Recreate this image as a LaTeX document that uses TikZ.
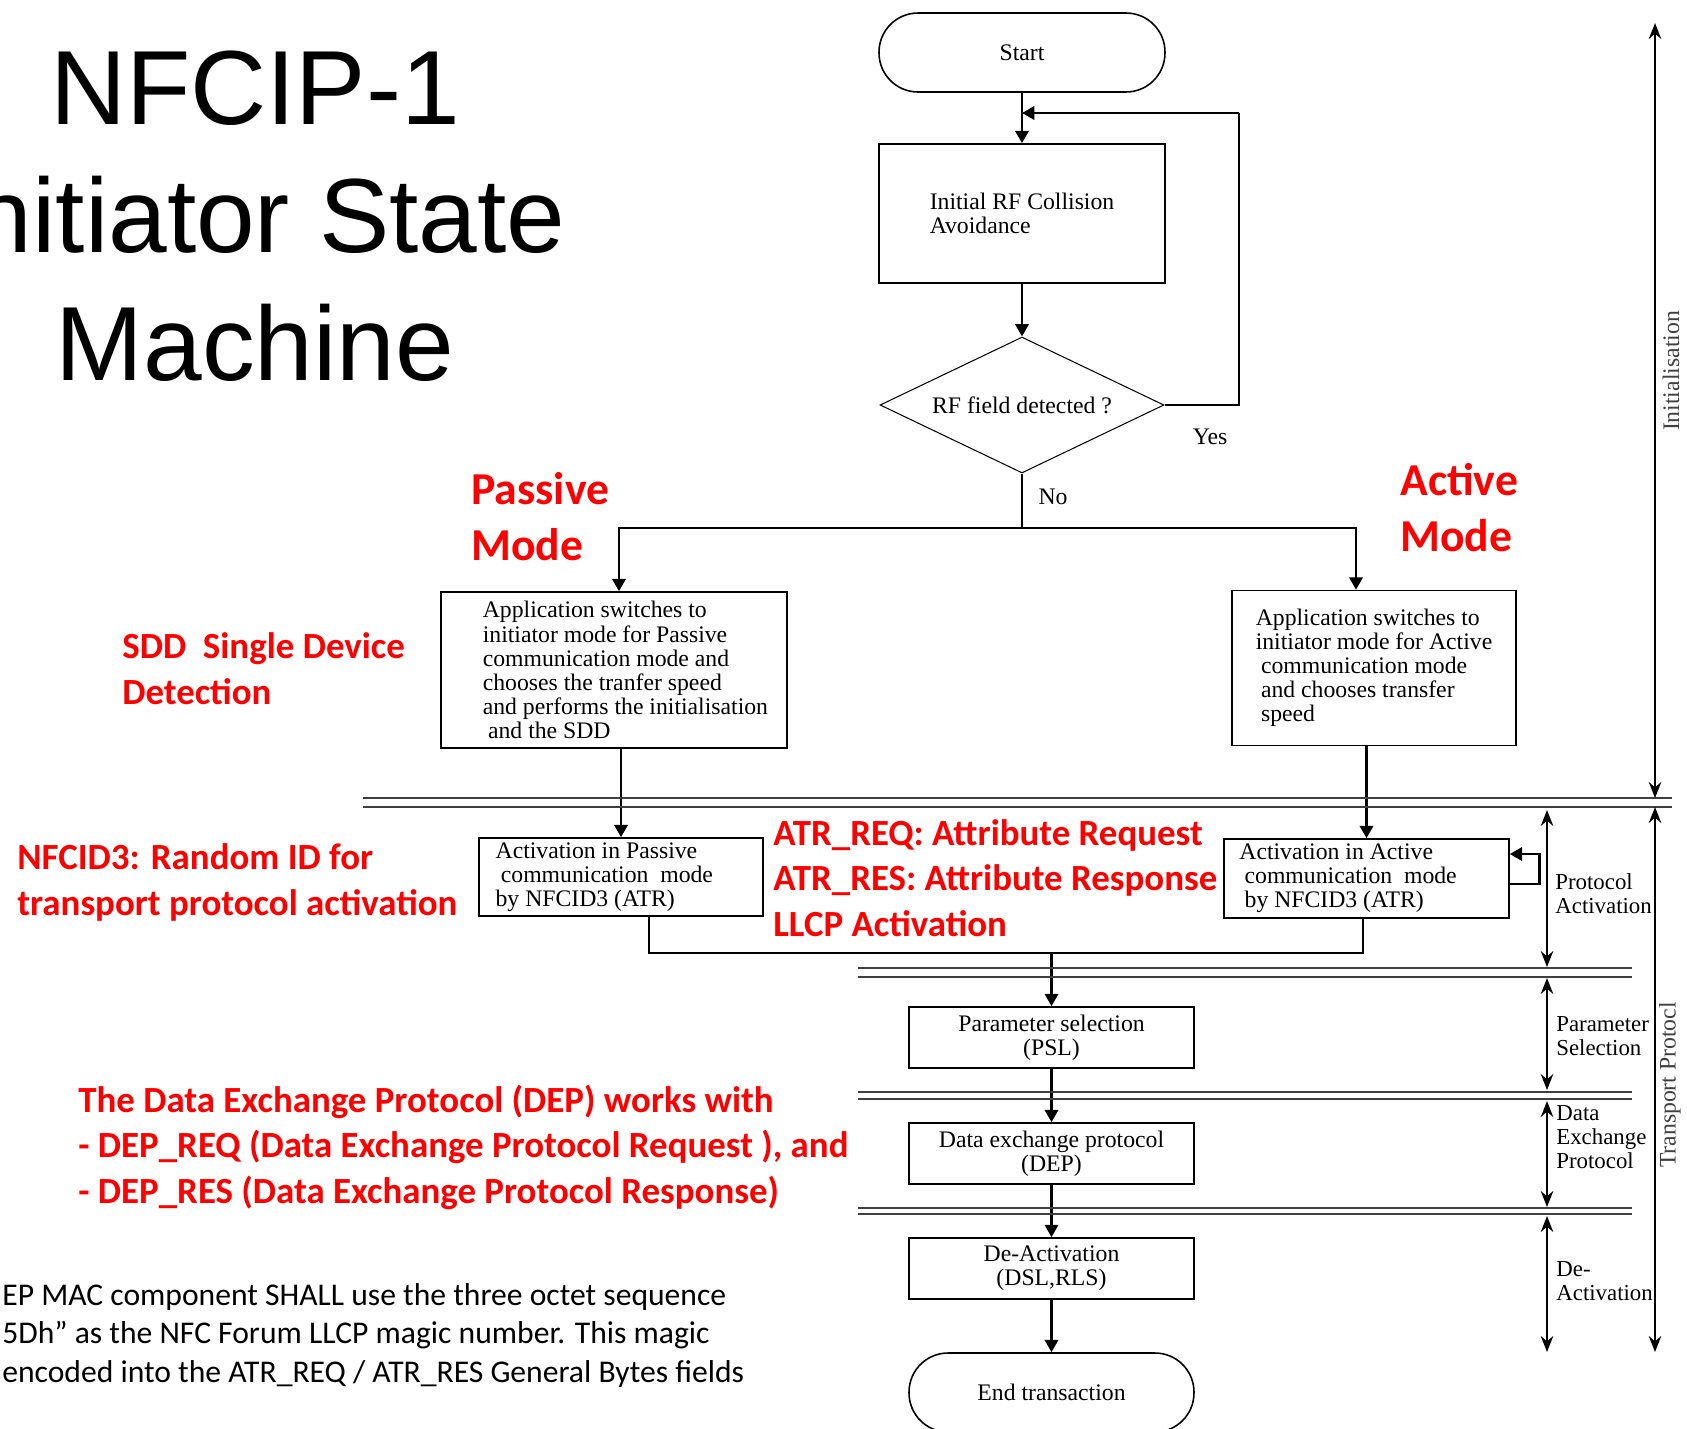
\documentclass[tikz,border=0pt]{standalone}
\usepackage{fontspec}
\setmainfont{Liberation Serif}
\newfontfamily\arialfont{Liberation Sans}
\newfontfamily\calfont{Carlito}
\usetikzlibrary{arrows.meta, shapes.geometric}
\tikzset{
  box/.style={draw, line width=0.9pt, align=left, inner sep=2pt,
              font=\fontsize{13.5}{13.7}\selectfont},
  term/.style={box, rounded corners=0.78cm, align=center},
  decision/.style={draw, diamond, aspect=2.09, line width=0.6pt, inner sep=0pt,
              font=\fontsize{13.5}{13.7}\selectfont},
  lbl/.style={inner sep=0pt, font=\fontsize{13.5}{13.7}\selectfont},
  flow/.style={-{Triangle[length=7pt,width=7.5pt]}, line width=1.6pt},
  link/.style={line width=1.3pt},
  thinlink/.style={line width=0.8pt},
  sep/.style={line width=0.8pt, black!75},
  span/.style={{Stealth[length=9pt,width=7pt]}-{Stealth[length=9pt,width=7pt]},
              line width=1.6pt},
  spanlbl/.style={anchor=base west, align=left, inner sep=0pt,
              font=\fontsize{13}{13.5}\selectfont},
  title/.style={anchor=base, inner sep=0pt,
              font=\arialfont\fontsize{60}{72}\selectfont},
  note/.style={anchor=base west, align=left, inner sep=0pt, text=red,
              font=\calfont\bfseries\fontsize{21}{25.8}\selectfont},
  bignote/.style={note, font=\calfont\bfseries\fontsize{26}{31.8}\selectfont},
  body/.style={anchor=base west, align=left, inner sep=0pt,
              font=\calfont\fontsize{18}{21.8}\selectfont},
}
\newcommand{\ind}{\hspace*{13pt}}
\newcommand{\pad}[1]{\hspace*{#1}\mbox{}}

\begin{document}
\begin{tikzpicture}[x=0.02cm, y=-0.02cm]
\useasboundingbox (0,0) rectangle (1687,1428);

%% Title
\node[title] (ttl1) at (255,124) {NFCIP-1};
\node[title] (ttl2) at (255,252) {Initiator State};
\node[title] (ttl3) at (255,380) {Machine};

%% Initialisation part
\node[term, minimum width=5.72cm, minimum height=1.58cm] (start) at (1022,52.5) {Start};
\node[box, minimum width=5.72cm, minimum height=2.78cm] (init) at (1022,213.5)
  {Initial RF Collision\\Avoidance};
\node[decision, minimum width=5.68cm, minimum height=2.72cm] (rfq) at (1022,405)
  {RF field detected ?};
\node[lbl] (yes) at (1210,437) {Yes};
\node[lbl] (no) at (1053,497) {No};

\node[box, minimum width=6.92cm, minimum height=3.12cm] (pbox) at (614,670)
  {\ind Application switches to\\\ind initiator mode for Passive\\\ind communication mode and\\
   \ind chooses the tranfer speed\\\ind and performs the initialisation\\\ind\hspace*{3pt}and the SDD};
\node[box, minimum width=5.68cm, minimum height=3.10cm] (abox) at (1374,668)
  {Application switches to\\initiator mode for Active\\\hspace*{3pt}communication mode\\
   \hspace*{3pt}and chooses transfer\\\hspace*{3pt}speed};

%% Activation part
\node[box, minimum width=5.68cm, minimum height=1.56cm] (pact) at (621,877)
  {Activation in Passive\\\hspace*{3pt}communication\ \ mode\pad{19pt}\\by NFCID3 (ATR)};
\node[box, minimum width=5.70cm, minimum height=1.58cm] (aact) at (1366.5,878.5)
  {Activation in Active\\\hspace*{3pt}communication\ \ mode\pad{21pt}\\\hspace*{3pt}by NFCID3 (ATR)};

%% Transport part
\node[box, align=center, minimum width=5.70cm, minimum height=1.22cm] (psl) at (1051.5,1037.5)
  {Parameter selection\\(PSL)};
\node[box, align=center, minimum width=5.70cm, minimum height=1.22cm] (dep) at (1051.5,1153.5)
  {Data exchange protocol\\(DEP)};
\node[box, align=center, minimum width=5.70cm, minimum height=1.22cm] (deact) at (1051.5,1268.5)
  {De-Activation\\(DSL,RLS)};
\node[term, minimum width=5.70cm, minimum height=1.58cm] (endt) at (1051.5,1392.5)
  {End transaction};

%% Connectors
\coordinate (fb) at (1022,113);
\coordinate (fbc) at (1239,113);
\coordinate (spl) at (1022,528);
\coordinate (jl) at (649,953);
\coordinate (jr) at (1363,953);

\draw[flow] (start) -- (init);
\draw[flow] (init) -- (rfq);
\draw[thinlink] (rfq.east) -| (fbc);
\draw[flow] (fbc) -- (fb);
\draw[link] (rfq.south) -- (spl);
\draw[flow] (spl) -| ([xshift=0.1cm]pbox.north);
\draw[flow] (spl) -| ([xshift=-0.36cm]abox.north);
\draw[flow] (pact.north |- pbox.south) -- (pact.north);
\draw[flow] (aact.north |- abox.south) -- (aact.north);
\draw[flow] ([yshift=-0.11cm]aact.east) -- ++(30,0) |- ([yshift=0.49cm]aact.east);
\draw[thinlink] (pact.south -| jl) -- (jl) -- (jr) -- (aact.south -| jr);
\draw[flow] (psl.north |- jl) -- (psl.north);
\draw[flow] (psl) -- (dep);
\draw[flow] (dep) -- (deact);
\draw[flow] (deact) -- (endt);

%% Phase separators
\foreach \y in {798,807}
  \draw[sep] (363,\y) -- (1672,\y);
\foreach \y in {968,977,1092,1099,1208,1214}
  \draw[sep] (858,\y) -- (1632,\y);

%% Phase spans
\foreach \nm/\x/\ya/\yb in {ini/1655/23/798, tp/1655/807/1352, pa/1547/810/967,
                            ps/1547/978/1090, dx/1547/1101/1207, da/1547/1216/1352} {
  \coordinate (\nm a) at (\x,\ya);
  \coordinate (\nm b) at (\x,\yb);
  \draw[span] (\nm a) -- (\nm b);
}
\node[rotate=90, lbl, text=black!75] (linit) at (1671,371) {Initialisation};
\node[rotate=90, lbl, text=black!75] (ltp) at (1670,1085) {Transport Protocl};
% base anchor = last line
\node[spanlbl] (lpa) at (1555,913) {Protocol\\Activation};
\node[spanlbl] (lps) at (1556,1055) {Parameter\\Selection};
\node[spanlbl] (ldx) at (1556,1168) {Data\\Exchange\\Protocol};
\node[spanlbl] (lda) at (1556,1300) {De-\\Activation};

%% Notes
\node[bignote] (passive) at (471,560) {Passive\\Mode};
\node[bignote] (active) at (1400,551) {Active\\Mode};
\node[note] (sdd) at (122,704) {SDD\ \ Single Device\\Detection};
\node[note] (nfcid) at (17,915) {NFCID3: Random ID for\\transport protocol activation};
\node[note] (atr) at (773,936)
  {ATR\_REQ: Attribute Request\\ATR\_RES: Attribute Response\\LLCP Activation};
\node[note] (depnote) at (78,1203)
  {The Data Exchange Protocol (DEP) works with\\- DEP\_REQ (Data Exchange Protocol Request ), and\\
   - DEP\_RES (Data Exchange Protocol Response)};
\node[body] (magic) at (2,1382)
  {EP MAC component SHALL use the three octet sequence\\5Dh” as the NFC Forum LLCP magic number. This magic\\
   encoded into the ATR\_REQ / ATR\_RES General Bytes fields};

\end{tikzpicture}
\end{document}
